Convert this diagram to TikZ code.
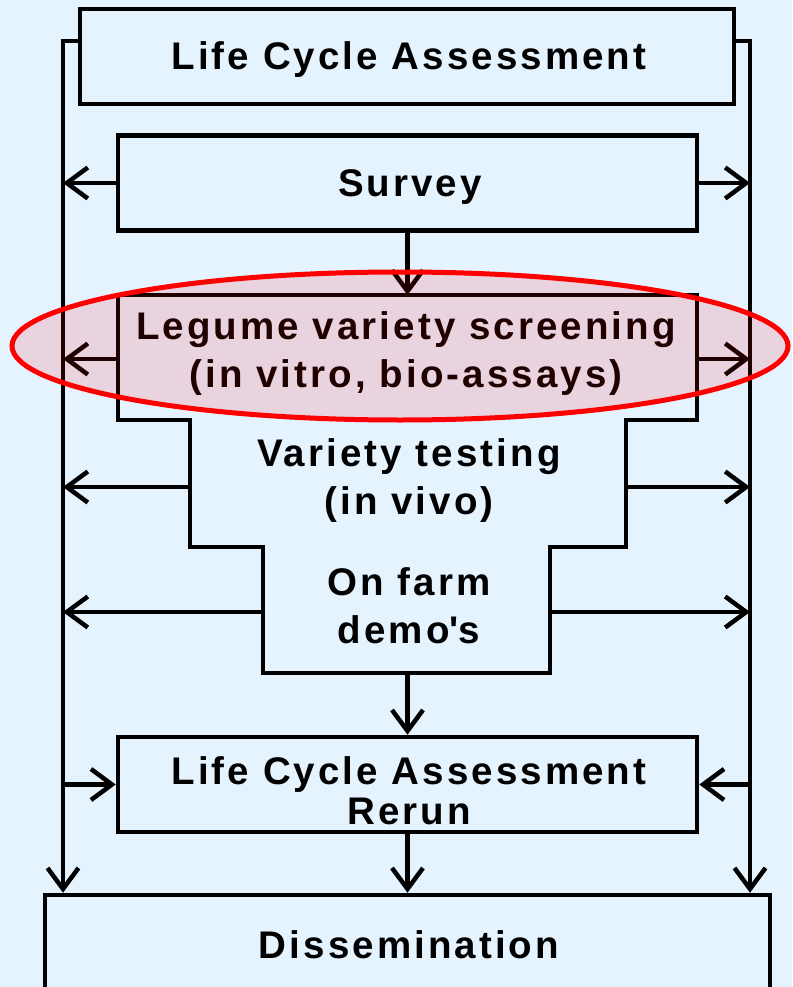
\documentclass[tikz,border=0pt]{standalone}
\usepackage{fontspec}
\setmainfont{Liberation Sans}[LetterSpace=8]
\usetikzlibrary{arrows.meta}
\definecolor{bg}{RGB}{229,243,255}
\tikzset{
  ln/.style={line width=4.5pt, draw=black},
  arr/.style={ln, -{Straight Barb[length=21pt,width=31pt,line width=4.5pt]}},
  box/.style={ln, fill=bg, rectangle, inner sep=0pt},
  lbl/.style={align=center, inner sep=0pt, font=\bfseries\fontsize{38.5}{48}\selectfont},
}
\begin{document}
\begin{tikzpicture}[x=1pt,y=-1pt]
\fill[bg] (0,0) rectangle (792,987);
\useasboundingbox (0,0) rectangle (792,987);
\clip (0,0) rectangle (792,987);
% side lines
\coordinate (lt) at (63,41);
\coordinate (rt) at (750,41);
% boxes
\node[box, minimum width=654pt, minimum height=95pt] (lca) at (407,56.5) {};
\node[box, minimum width=579pt, minimum height=95pt] (survey) at (407.5,183) {};
\node[box, minimum width=579pt, minimum height=95pt] (rerun) at (407.5,784.5) {};
\node[box, minimum width=725pt, minimum height=200pt] (dissem) at (407.5,995) {};
% stepped shape
\draw[ln, fill=bg] (118,295) -- (697,295) -- (697,420) -- (626,420) -- (626,547)
  -- (550,547) -- (550,673) -- (263,673) -- (263,547) -- (190,547) -- (190,420)
  -- (118,420) -- cycle;
\coordinate (legtop) at (407.5,295);
\coordinate (demobot) at (407.5,673);
\coordinate (s1l) at (118,359); \coordinate (s1r) at (697,359);
\coordinate (s2l) at (190,487); \coordinate (s2r) at (626,487);
\coordinate (s3l) at (263,612); \coordinate (s3r) at (550,612);
% texts
\node[lbl] (tlca) at (409,60) {Life Cycle Assessment};
\node[lbl] (tsurvey) at (410,187) {Survey};
\node[lbl] (tleg) at (406,354) {Legume variety screening\\(in vitro, bio-assays)};
\node[lbl] (tvar) at (409,481) {Variety testing\\(in vivo)};
\node[lbl] (tfarm) at (409,606) {On farm\\demo\textquotesingle s};
\node[lbl, font=\bfseries\fontsize{38.5}{40}\selectfont] (trerun) at (409,791) {Life Cycle Assessment\\Rerun};
\node[lbl] (tdis) at (409,945) {Dissemination};
% vertical side lines
\draw[arr] (lca.west |- lt) -- (lt) -- (lt |- dissem.north);
\draw[arr] (lca.east |- rt) -- (rt) -- (rt |- dissem.north);
% side arrows
\draw[arr] (survey.west) -- (survey.west -| lt);
\draw[arr] (survey.east) -- (survey.east -| rt);
\draw[arr] (s1l) -- (s1l -| lt);
\draw[arr] (s1r) -- (s1r -| rt);
\draw[arr] (s2l) -- (s2l -| lt);
\draw[arr] (s2r) -- (s2r -| rt);
\draw[arr] (s3l) -- (s3l -| lt);
\draw[arr] (s3r) -- (s3r -| rt);
\draw[arr] (rerun.west -| lt) -- (rerun.west);
\draw[arr] (rerun.east -| rt) -- (rerun.east);
% central arrows
\draw[arr] (survey.south) -- (legtop);
\draw[arr] (demobot) -- (rerun.north);
\draw[arr] (rerun.south) -- (dissem.north);
% highlight ellipse
\draw[red, line width=5pt, fill=red, fill opacity=0.13] (400,346) ellipse [x radius=388pt, y radius=74pt];
\end{tikzpicture}
\end{document}
